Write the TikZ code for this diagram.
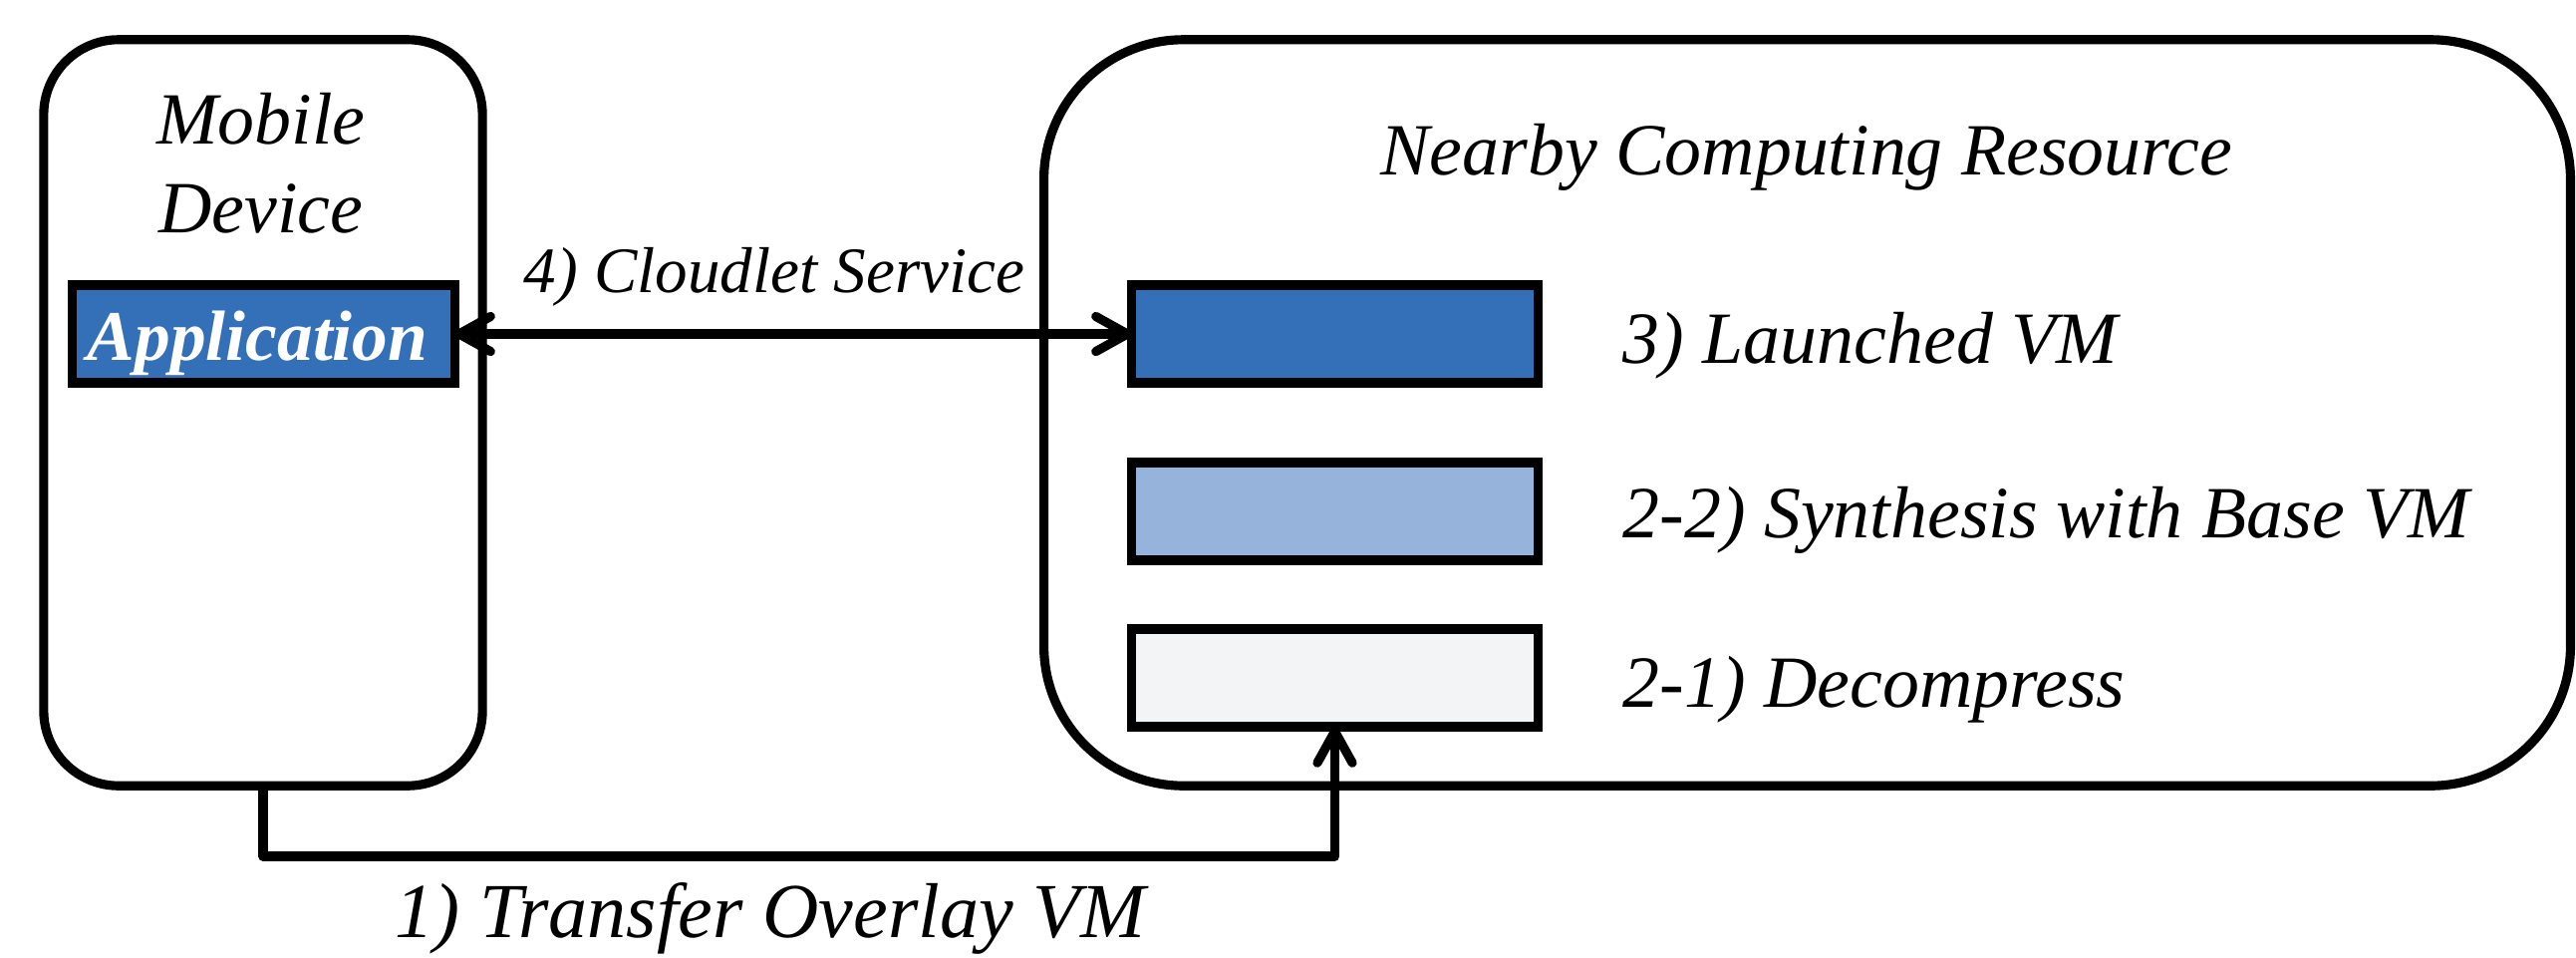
\documentclass[tikz,border=0pt]{standalone}
\usepackage{fontspec}
\setmainfont{Liberation Serif}
\usetikzlibrary{arrows.meta}
\definecolor{appblue}{HTML}{3370B7}
\definecolor{lightblue}{HTML}{95B3DB}
\definecolor{paleblue}{HTML}{F3F4F6}
\tikzset{
  outerbox/.style={draw=black, line width=2.6pt, rounded corners=#1, inner sep=0pt, outer sep=0pt},
  vmbox/.style={draw=black, line width=2.6pt, inner sep=0pt, outer sep=0pt, minimum width=4.07cm, minimum height=0.98cm},
  lbl/.style={font=\fontsize{21}{25}\selectfont\itshape, inner sep=0pt},
  tip/.style={Straight Barb[length=9pt,width=10pt,line width=2.6pt,round]},
  conn/.style={line width=2.6pt, -{Straight Barb[length=9pt,width=10pt,line width=2.6pt,round]}},
  conn2/.style={line width=2.6pt, {Straight Barb[length=9pt,width=10pt,line width=2.6pt,round]}-{Straight Barb[length=9pt,width=10pt,line width=2.6pt,round]}}
}
\begin{document}
\begin{tikzpicture}[x=0.01cm,y=-0.01cm]
\useasboundingbox (0,0) rectangle (2585,960);
% outer boxes
\node[outerbox=0.75cm, minimum width=4.40cm, minimum height=7.48cm] (mobile) at (264,414) {};
\node[outerbox=1.4cm, minimum width=15.31cm, minimum height=7.48cm] (nearby) at (1813.5,414) {};
% titles
\node[lbl, anchor=base] (tmobile) at (262,144) {Mobile};
\node[lbl, anchor=base] (tdevice) at (262,233) {Device};
\node[lbl, anchor=base] (tnearby) at (1813,175) {Nearby Computing Resource};
% application
\node[vmbox, fill=appblue, minimum width=3.83cm] (app) at (264.5,335) {};
\node[lbl, anchor=base, text=white, font=\fontsize{20.3}{24}\selectfont\bfseries\itshape] (tapp) at (258.5,361) {Application};
% VM boxes
\node[vmbox, fill=appblue] (launched) at (1339.5,335) {};
\node[vmbox, fill=lightblue] (synth) at (1339.5,513) {};
\node[vmbox, fill=paleblue] (decomp) at (1339.5,680) {};
% VM labels
\node[lbl, anchor=base west] (llaunched) at (1628,364) {3) Launched VM};
\node[lbl, anchor=base west] (lsynth) at (1628,539) {2-2) Synthesis with Base VM};
\node[lbl, anchor=base west] (ldecomp) at (1628,709) {2-1) Decompress};
% connectors
\draw[conn2] (app.east) -- (launched.west);
\node[lbl, anchor=base, font=\fontsize{18.5}{22}\selectfont\itshape] (lcloudlet) at (777,293) {4) Cloudlet Service};
\coordinate (bend) at (264,859);
\draw[conn, line join=round] (mobile.south) -- (bend) -| (decomp.south);
\node[lbl, anchor=base, font=\fontsize{22.2}{26}\selectfont\itshape] (ltransfer) at (773,940) {1) Transfer Overlay VM};
\end{tikzpicture}
\end{document}
